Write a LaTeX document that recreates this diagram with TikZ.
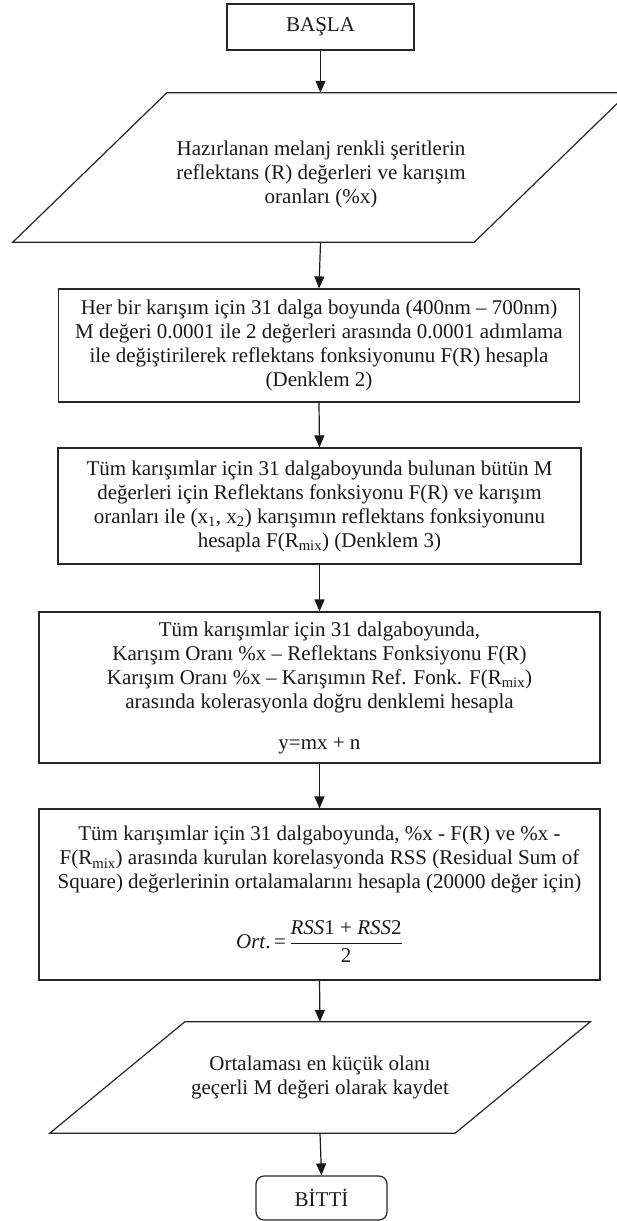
\documentclass[tikz,border=0pt]{standalone}
\usepackage{fontspec}
\setmainfont{Liberation Serif}
\usetikzlibrary{arrows.meta}
\begin{document}
\begin{tikzpicture}[x=1pt,y=-1pt,
  every node/.style={font=\fontsize{21}{24}\selectfont, inner sep=0pt, text=black!90},
  box/.style={draw=black!85, line width=1.2pt, rectangle, align=center},
  plain/.style={rectangle, align=center},
  shapeline/.style={draw=black!85, line width=1.2pt, line join=miter},
  arr/.style={draw=black!90, line width=1.2pt, -{Triangle[length=12pt,width=10pt]}}
]
\useasboundingbox (0,0) rectangle (616,1221);

\node[box, minimum width=187pt, minimum height=46pt] (start) at (320.5,27) {BAŞLA};

% input parallelogram 1
\node[plain, minimum width=461pt, minimum height=149pt] (p1) at (320.5,167.5) {};
\draw[shapeline] ([xshift=77pt]p1.north west) -- ([xshift=77pt]p1.north east)
  -- ([xshift=-77pt]p1.south east) -- ([xshift=-77pt]p1.south west) -- cycle;
\node[plain] (p1t) at (321,174) {Hazırlanan melanj renkli şeritlerin\\reflektans (R) değerleri ve karışım\\oranları (\%x)};

\node[box, minimum width=521pt, minimum height=113pt] (b2) at (319,345.5)
 {Her bir karışım için 31 dalga boyunda (400nm – 700nm)\\M değeri 0.0001 ile 2 değerleri arasında 0.0001 adımlama\\ile değiştirilerek reflektans fonksiyonunu F(R) hesapla\\(Denklem 2)};

\node[box, minimum width=523pt, minimum height=116pt] (b3) at (319.5,506)
 {Tüm karışımlar için 31 dalgaboyunda bulunan bütün M\\değerleri için Reflektans fonksiyonu F(R) ve karışım\\oranları ile (x\textsubscript{1}, x\textsubscript{2}) karışımın reflektans fonksiyonunu\\hesapla F(R\textsubscript{mix}) (Denklem 3)};

\node[box, minimum width=561pt, minimum height=151pt] (b4) at (319.5,687.5)
 {Tüm karışımlar için 31 dalgaboyunda,\\Karışım Oranı \%x – Reflektans Fonksiyonu F(R)\\Karışım Oranı \%x – Karışımın Ref. Fonk. F(R\textsubscript{mix})\\arasında kolerasyonla doğru denklemi hesapla\\[17pt]y=mx + n};

\node[box, minimum width=561pt, minimum height=171pt] (b5) at (319.5,894.5)
 {Tüm karışımlar için 31 dalgaboyunda, \%x - F(R) ve \%x -\\F(R\textsubscript{mix}) arasında kurulan korelasyonda RSS (Residual Sum of\\Square) değerlerinin ortalamalarını hesapla (20000 değer için)\\[26pt]
 \textit{Ort}.\,=\,$\displaystyle\frac{\mbox{\textit{RSS}1 + \textit{RSS}2}}{\mbox{2}}$};

% output parallelogram 2
\node[plain, minimum width=405pt, minimum height=111pt] (p2) at (320,1077.5) {};
\draw[shapeline] ([xshift=67.5pt]p2.north west) -- ([xshift=67.5pt]p2.north east)
  -- ([xshift=-67.5pt]p2.south east) -- ([xshift=-67.5pt]p2.south west) -- cycle;
\node[plain] (p2t) at (320,1077) {Ortalaması en küçük olanı\\geçerli M değeri olarak kaydet};

\node[box, rounded corners=8pt, minimum width=131pt, minimum height=44pt] (end) at (321.5,1198) {BİTTİ};

\draw[arr] (start.south) -- (p1.north);
\draw[arr] (p1.south) -- (b2.north);
\draw[arr] (b2.south) -- (b3.north);
\draw[arr] (b3.south) -- (b4.north);
\draw[arr] (b4.south) -- (b5.north);
\draw[arr] (b5.south) -- (p2.north);
\draw[arr] (p2.south) -- (end.north);
\end{tikzpicture}
\end{document}
